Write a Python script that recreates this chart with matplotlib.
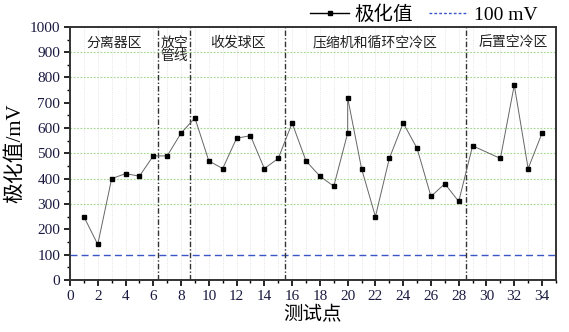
import matplotlib.pyplot as plt
import matplotlib.ticker as ticker
from matplotlib.lines import Line2D

plt.rcParams['font.family'] = ['Liberation Serif', 'Noto Sans CJK SC']

# Test points and measured polarization potentials (mV)
points = [1, 2, 3, 4, 5, 6, 7, 8, 9, 10, 11, 12, 13, 14, 15,
          16, 17, 18, 19, 20, 20, 21, 22, 23, 24, 25, 26, 27, 28,
          29, 31, 32, 33, 34]
potential = [250, 140, 400, 420, 410, 490, 490, 580, 640, 470, 440, 560, 570, 440, 480,
             620, 470, 410, 370, 580, 720, 440, 250, 480, 620, 520, 330, 380, 310,
             530, 480, 770, 440, 580]
threshold = 100

# Zone boundaries and zone names
boundaries = [6.35, 8.65, 15.5, 28.5]
zone_names = ['分离器区', '放空\n管线', '收发球区', '压缩机和循环空冷区', '后置空冷区']
zone_x = [3.2, 7.5, 12.1, 21.95, 31.9]

fig = plt.figure(figsize=(5.69, 3.32), dpi=100)
ax = fig.add_axes([0.123, 0.157, 0.854, 0.762])

# background grid
for x in range(1, 35):
    ax.axvline(x, color='#dddddd', ls=(0, (1, 1.5)), lw=0.6, zorder=0)
for y in [300, 400, 500, 600, 800, 900]:
    ax.axhline(y, color='#9fd88a', ls=(0, (1.5, 1.5)), lw=0.8, zorder=0)

ax.plot(points, potential, color='#666666', lw=0.7, marker='s', ms=3,
        mfc='black', mec='black', zorder=3)
ax.axhline(threshold, color='#3a55c8', ls=(0, (5, 3)), lw=1.0, zorder=2)

for b in boundaries:
    ax.axvline(b, color='#333333', ls=(0, (4, 1.5, 1, 1.5)), lw=1.0, zorder=2)

for name, x in zip(zone_names, zone_x):
    ax.text(x, 965, name, ha='center', va='top', fontsize=10,
            family='Noto Sans CJK SC', linespacing=0.95, color='#222222')

ax.set_xlim(0, 35)
ax.set_ylim(0, 1000)
ax.xaxis.set_major_locator(ticker.MultipleLocator(2))
ax.xaxis.set_minor_locator(ticker.MultipleLocator(1))
ax.yaxis.set_major_locator(ticker.MultipleLocator(100))
ax.yaxis.set_minor_locator(ticker.MultipleLocator(50))
ax.tick_params(which='major', direction='out', length=4, width=1.2, labelsize=11,
               labelcolor='#1a1a40', pad=3)
ax.tick_params(which='minor', direction='out', length=2.5, width=1.0)
for s in ax.spines.values():
    s.set_linewidth(1.4)
    s.set_color('#333333')

ax.set_xlabel('测试点', fontsize=14, family='Noto Sans CJK SC', labelpad=1)
ax.set_ylabel('极化值/mV', fontsize=15, labelpad=3)

handles = [Line2D([], [], color='black', lw=1.0, marker='s', ms=3),
           Line2D([], [], color='#3a55c8', ls=(0, (2, 1.5)), lw=1.0)]
fig.legend(handles, ['极化值', '100 mV'], loc='center right',
           bbox_to_anchor=(0.975, 0.955), ncol=2, frameon=False,
           fontsize=14, handlelength=2.0, handletextpad=0.3, columnspacing=0.8)

fig.savefig('out.png', dpi=100)
